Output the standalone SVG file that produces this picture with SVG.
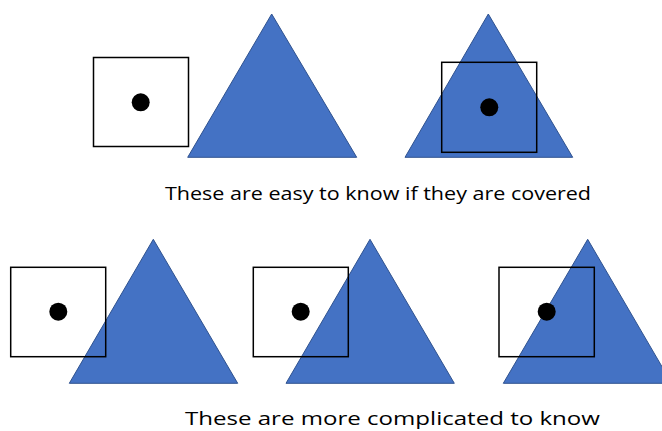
<svg xmlns="http://www.w3.org/2000/svg" width="662" height="431" viewBox="0 0 662 431">
<style>
.tri{fill:#4472C4;stroke:#2F528F;stroke-width:1}
.sq{fill:none;stroke:#000;stroke-width:1.5}
.dot{fill:#000}
.lbl{font-family:"Open Sans","Noto Sans",sans-serif;font-size:18px;fill:#000}
</style>
<rect width="662" height="431" fill="#fff"/>
<g id="pair1">
<rect class="sq" x="93.5" y="57.5" width="95" height="89"/>
<circle class="dot" cx="140.7" cy="102.3" r="9"/>
<polygon class="tri" points="271.7,14 356.7,157.3 187.7,157.3"/>
</g>
<g id="pair2">
<polygon class="tri" points="488.3,14 572.7,157.3 405,157.3"/>
<rect class="sq" x="441.7" y="62.3" width="95" height="90"/>
<circle class="dot" cx="489.3" cy="107.3" r="9"/>
</g>
<text id="caption1" class="lbl" x="165" y="200" textLength="426" lengthAdjust="spacingAndGlyphs">These are easy to know if they are covered</text>
<g id="pair3">
<polygon class="tri" points="153.3,239.3 237.7,383.3 69.3,383.3"/>
<rect class="sq" x="10.7" y="267.3" width="95" height="89.4"/>
<circle class="dot" cx="58.3" cy="311.7" r="9"/>
</g>
<g id="pair4">
<polygon class="tri" points="370,239.3 454.3,383.3 286,383.3"/>
<rect class="sq" x="253.3" y="267.3" width="95" height="89.4"/>
<circle class="dot" cx="300.7" cy="311.7" r="9"/>
</g>
<g id="pair5">
<polygon class="tri" points="587.7,239.3 671.7,383.3 503.3,383.3"/>
<rect class="sq" x="499" y="267.3" width="95.3" height="89.4"/>
<circle class="dot" cx="546.7" cy="311.7" r="9"/>
</g>
<text id="caption2" class="lbl" x="185" y="425" textLength="415" lengthAdjust="spacingAndGlyphs">These are more complicated to know</text>
</svg>
